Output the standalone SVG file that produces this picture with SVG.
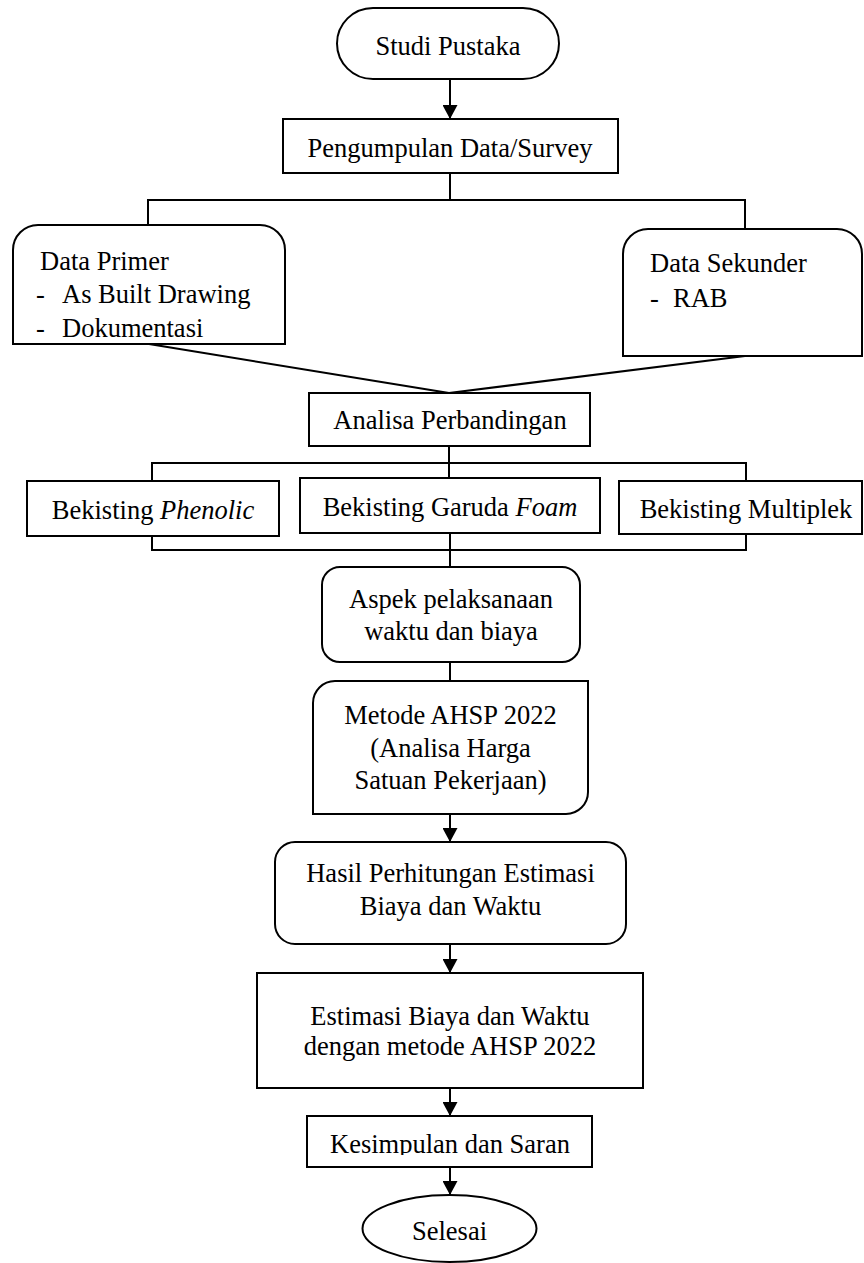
<svg xmlns="http://www.w3.org/2000/svg" width="864" height="1263" viewBox="0 0 864 1263">
<style>
.box{fill:#fff;stroke:#000;stroke-width:2}
.ln{fill:none;stroke:#000;stroke-width:2}
.t{font-family:"Liberation Serif","Times New Roman",serif;font-size:26.5px;fill:#000}
.c{text-anchor:middle}
</style>
<defs>
<marker id="ah" markerUnits="userSpaceOnUse" markerWidth="15" markerHeight="15" refX="14" refY="7.5" orient="auto">
<path d="M0,0 L14,7.5 L0,15 Z" fill="#000"/>
</marker>
<clipPath id="kclip"><rect x="300" y="1100" width="300" height="55"/></clipPath>
</defs>
<rect width="864" height="1263" fill="#fff"/>
<g id="connectors">
<line class="ln" x1="450" y1="79" x2="450" y2="119" marker-end="url(#ah)"/>
<line class="ln" x1="450" y1="173" x2="450" y2="200"/>
<polyline class="ln" points="148,225 148,200 745,200 745,229"/>
<line class="ln" x1="149" y1="344" x2="449" y2="393"/>
<line class="ln" x1="745" y1="356" x2="449" y2="393"/>
<line class="ln" x1="449" y1="446" x2="449" y2="478"/>
<polyline class="ln" points="152,481 152,463 746,463 746,481"/>
<polyline class="ln" points="152,536 152,550 746,550 746,534"/>
<line class="ln" x1="450" y1="533" x2="450" y2="567"/>
<line class="ln" x1="450" y1="662" x2="450" y2="681"/>
<line class="ln" x1="450" y1="814" x2="450" y2="842" marker-end="url(#ah)"/>
<line class="ln" x1="450" y1="944" x2="450" y2="973" marker-end="url(#ah)"/>
<line class="ln" x1="450" y1="1088" x2="450" y2="1116" marker-end="url(#ah)"/>
<line class="ln" x1="450" y1="1167" x2="450" y2="1195" marker-end="url(#ah)"/>
</g>
<g id="studi">
<rect class="box" x="337" y="8" width="222" height="71" rx="36" ry="35.5"/>
<text class="t c" x="448" y="55">Studi Pustaka</text>
</g>
<g id="pengumpulan">
<rect class="box" x="283" y="119" width="335" height="54"/>
<text class="t c" x="450" y="157">Pengumpulan Data/Survey</text>
</g>
<g id="primer">
<path class="box" d="M13,344 L13,250 A25,25 0 0 1 38,225 L260,225 A25,25 0 0 1 285,250 L285,344 Z"/>
<text class="t" x="40" y="270">Data Primer</text>
<text class="t" x="36" y="303">-</text><text class="t" x="62" y="303">As Built Drawing</text>
<text class="t" x="36" y="337">-</text><text class="t" x="62" y="337">Dokumentasi</text>
</g>
<g id="sekunder">
<path class="box" d="M623,356 L623,254 A25,25 0 0 1 648,229 L837,229 A25,25 0 0 1 862,254 L862,356 Z"/>
<text class="t" x="650" y="272">Data Sekunder</text>
<text class="t" x="650" y="307">-</text><text class="t" x="673" y="307">RAB</text>
</g>
<g id="analisa">
<rect class="box" x="309" y="393" width="281" height="53"/>
<text class="t c" x="450" y="429">Analisa Perbandingan</text>
</g>
<g id="phenolic">
<rect class="box" x="27" y="481" width="252" height="55"/>
<text class="t c" x="153" y="518.5">Bekisting <tspan font-style="italic">Phenolic</tspan></text>
</g>
<g id="foam">
<rect class="box" x="300" y="478" width="300" height="55"/>
<text class="t c" x="450" y="515.5">Bekisting Garuda <tspan font-style="italic">Foam</tspan></text>
</g>
<g id="multiplek">
<rect class="box" x="619" y="481" width="243" height="53"/>
<text class="t c" x="746" y="517.5">Bekisting Multiplek</text>
</g>
<g id="aspek">
<rect class="box" x="322" y="567" width="258" height="95" rx="18"/>
<text class="t c" x="451" y="608">Aspek pelaksanaan</text>
<text class="t c" x="451" y="640">waktu dan biaya</text>
</g>
<g id="metode">
<path class="box" d="M313,703 A22,22 0 0 1 335,681 L588,681 L588,792 A22,22 0 0 1 566,814 L313,814 Z"/>
<text class="t c" x="450.5" y="724">Metode AHSP 2022</text>
<text class="t c" x="450.5" y="757">(Analisa Harga</text>
<text class="t c" x="450.5" y="789">Satuan Pekerjaan)</text>
</g>
<g id="hasil">
<rect class="box" x="275" y="842" width="351" height="102" rx="20"/>
<text class="t c" x="450.5" y="882">Hasil Perhitungan Estimasi</text>
<text class="t c" x="450.5" y="915">Biaya dan Waktu</text>
</g>
<g id="estimasi">
<rect class="box" x="257" y="973" width="386" height="115"/>
<text class="t c" x="450" y="1025">Estimasi Biaya dan Waktu</text>
<text class="t c" x="450" y="1055">dengan metode AHSP 2022</text>
</g>
<g id="kesimpulan">
<rect class="box" x="307" y="1116" width="285" height="51"/>
<text class="t c" x="450" y="1153" clip-path="url(#kclip)">Kesimpulan dan Saran</text>
</g>
<g id="selesai">
<ellipse class="box" cx="449.5" cy="1228.5" rx="87" ry="33.5"/>
<text class="t c" x="449.5" y="1240">Selesai</text>
</g>
</svg>
